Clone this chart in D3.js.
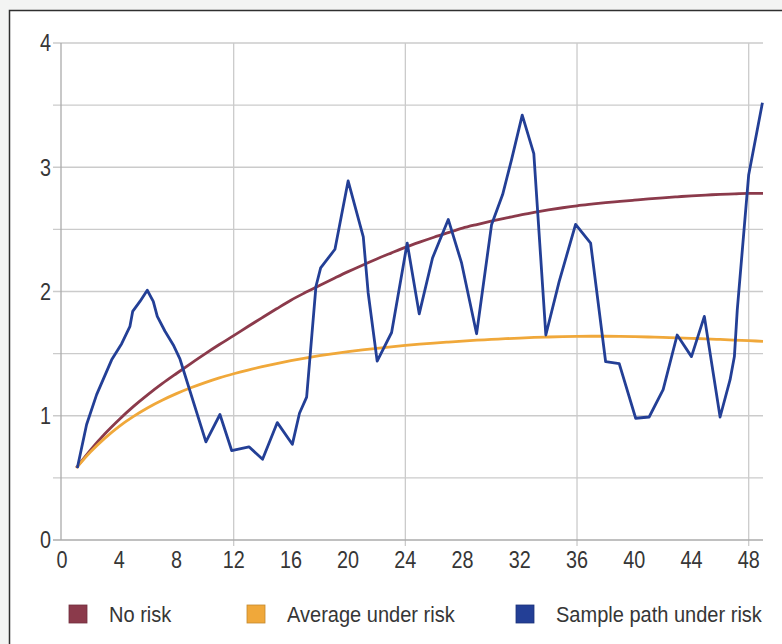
<!DOCTYPE html>
<html>
<head>
<meta charset="utf-8">
<script src="https://cdn.jsdelivr.net/npm/d3@7/dist/d3.min.js"></script>
<style>
  body { margin: 0; background: #f3f4f3; }
  svg text { font-family: "Liberation Sans", Arial, sans-serif; fill: #363636; }
</style>
</head>
<body>
<div id="chart"></div>
<script>
// Data
const months = [1, 2, 3, 4, 5, 6, 7, 8, 9, 10, 11, 12, 13, 14, 15, 16, 17, 18, 19, 20,
                21, 22, 23, 24, 25, 26, 27, 28, 29, 30, 31, 32, 33, 34, 35, 36, 37, 38, 39, 40,
                41, 42, 43, 44, 45, 46, 47, 48, 49];

const noRisk = [0.58, 0.725, 0.855, 0.97, 1.075, 1.17, 1.258, 1.34, 1.42, 1.498, 1.573, 1.645, 1.718, 1.79, 1.861, 1.93, 1.991, 2.049, 2.105, 2.16,
                2.212, 2.262, 2.309, 2.355, 2.397, 2.437, 2.474, 2.51, 2.539, 2.566, 2.591, 2.615, 2.636, 2.656, 2.674, 2.69, 2.703, 2.715, 2.725, 2.735,
                2.745, 2.754, 2.762, 2.77, 2.776, 2.782, 2.786, 2.79, 2.79];

const avgRisk = [0.58, 0.71, 0.82, 0.915, 0.995, 1.065, 1.125, 1.178, 1.225, 1.267, 1.305, 1.338, 1.368, 1.395, 1.42, 1.443, 1.464, 1.483, 1.5, 1.516,
                 1.53, 1.543, 1.555, 1.566, 1.576, 1.585, 1.593, 1.601, 1.608, 1.614, 1.62, 1.625, 1.63, 1.634, 1.637, 1.639, 1.64, 1.64, 1.639, 1.637,
                 1.634, 1.631, 1.627, 1.623, 1.619, 1.614, 1.609, 1.604, 1.599];

const pathTime = [1.07, 1.72, 2.42, 3.47, 4.17, 4.75, 4.94, 5.45, 5.96, 6.38, 6.66, 7.2, 7.78, 8.25, 10.06, 11.04, 11.86, 13.07, 14.02, 15.05,
                  16.1, 16.6, 17.1, 17.75, 18.08, 19.08, 20.0, 21.06, 21.4, 22.03, 23.04, 24.13, 24.97, 25.9, 27.0, 27.93, 28.98, 30.03, 30.8, 31.42,
                  32.17, 32.98, 33.82, 34.75, 35.9, 36.95, 38.0, 38.95, 40.1, 41.04, 42.02, 43.0, 44.0, 44.9, 46.0, 46.7, 47.0, 47.2, 48.0, 48.96];

const pathValue = [0.58, 0.93, 1.17, 1.45, 1.58, 1.72, 1.84, 1.92, 2.01, 1.92, 1.80, 1.68, 1.57, 1.455, 0.79, 1.01, 0.72, 0.75, 0.65, 0.945,
                   0.77, 1.02, 1.15, 2.04, 2.19, 2.34, 2.89, 2.44, 1.99, 1.44, 1.67, 2.39, 1.82, 2.27, 2.58, 2.23, 1.66, 2.54, 2.78, 3.06,
                   3.42, 3.11, 1.65, 2.08, 2.54, 2.39, 1.435, 1.42, 0.98, 0.99, 1.21, 1.65, 1.476, 1.80, 0.99, 1.29, 1.476, 1.85, 2.94, 3.52];

const xTickLabels = [0, 4, 8, 12, 16, 20, 24, 28, 32, 36, 40, 44, 48];
const xGridValues = [12, 24, 36, 48];
const yGridValues = [0.5, 1, 1.5, 2, 2.5, 3, 3.5, 4];
const yTickLabels = [0, 1, 2, 3, 4];

const seriesNames = ['No risk', 'Average under risk', 'Sample path under risk'];

// Constant
const width = 782;
const height = 644;
const plot = {left: 61, right: 763, top: 43, bottom: 540};
const colorMap = {
    'No risk': '#8b3a4b',
    'Average under risk': '#f0a83a',
    'Sample path under risk': '#233f96'
};
const gridColor = '#cbcbcb';
const axisColor = '#ababab';
const tickFont = '23px';
const legendFont = '22px';

const xScale = d3.scaleLinear()
                .domain([0, 49])
                .range([62, plot.right]);
const yScale = d3.scaleLinear()
                .domain([0, 4])
                .range([plot.bottom, plot.top]);

// squeeze text a bit to mimic the condensed face of the original
const narrow = k => sel => sel.each(function () {
    const w = this.getComputedTextLength();
    d3.select(this)
        .attr('textLength', w * k)
        .attr('lengthAdjust', 'spacingAndGlyphs');
});

const svg = d3.select('#chart')
    .append('svg')
        .attr('width', width)
        .attr('height', height);

// frame
svg.append('rect')
    .attr('x', 9.5)
    .attr('y', 10.5)
    .attr('width', 820)
    .attr('height', 700)
    .attr('fill', '#fff')
    .attr('stroke', '#2f2f2f')
    .attr('stroke-width', 1.5);

// horizontal gridlines
svg.append('g')
    .selectAll('line')
    .data(yGridValues)
    .join('line')
        .attr('x1', plot.left - 8)
        .attr('x2', plot.right)
        .attr('y1', d => yScale(d))
        .attr('y2', d => yScale(d))
        .attr('stroke', gridColor)
        .attr('stroke-width', 1.3);

// vertical gridlines
svg.append('g')
    .selectAll('line')
    .data(xGridValues)
    .join('line')
        .attr('x1', d => xScale(d))
        .attr('x2', d => xScale(d))
        .attr('y1', plot.top)
        .attr('y2', plot.bottom + 6)
        .attr('stroke', gridColor)
        .attr('stroke-width', 1.3);

// axis lines
svg.append('line')
    .attr('x1', plot.left).attr('x2', plot.left)
    .attr('y1', plot.top).attr('y2', plot.bottom)
    .attr('stroke', axisColor).attr('stroke-width', 1.3);
svg.append('line')
    .attr('x1', plot.left - 8).attr('x2', plot.right)
    .attr('y1', plot.bottom).attr('y2', plot.bottom)
    .attr('stroke', axisColor).attr('stroke-width', 1.5);

// tick labels
svg.append('g')
    .selectAll('text')
    .data(yTickLabels)
    .join('text')
        .attr('x', 51)
        .attr('y', d => yScale(d))
        .attr('dy', '0.36em')
        .attr('text-anchor', 'end')
        .style('font-size', tickFont)
        .text(d => d)
        .call(narrow(0.86));

svg.append('g')
    .selectAll('text')
    .data(xTickLabels)
    .join('text')
        .attr('x', d => xScale(d))
        .attr('y', 568)
        .attr('text-anchor', 'middle')
        .style('font-size', tickFont)
        .text(d => d)
        .call(narrow(0.86));

// lines
const line = d3.line()
    .x(d => xScale(d[0]))
    .y(d => yScale(d[1]));

const series = [
    {name: 'No risk', values: months.map((m, i) => [m, noRisk[i]]), curve: d3.curveMonotoneX},
    {name: 'Average under risk', values: months.map((m, i) => [m, avgRisk[i]]), curve: d3.curveMonotoneX},
    {name: 'Sample path under risk', values: pathTime.map((t, i) => [t, pathValue[i]]), curve: d3.curveLinear}
];

series.forEach(s => {
    svg.append('path')
        .datum(s.values)
        .attr('fill', 'none')
        .attr('stroke', colorMap[s.name])
        .attr('stroke-width', 2.8)
        .attr('stroke-linejoin', 'round')
        .attr('d', line.curve(s.curve));
});

// legend
const legendX = [69, 247, 516];
const legend = svg.append('g')
    .selectAll('g')
    .data(seriesNames)
    .join('g')
        .attr('transform', (d, i) => `translate(${legendX[i]}, 605)`);

legend.append('rect')
    .attr('width', 18)
    .attr('height', 18)
    .attr('fill', d => colorMap[d])
    .attr('stroke', d => d3.color(colorMap[d]).darker(0.6))
    .attr('stroke-width', 0.8);

legend.append('text')
    .attr('x', 40)
    .attr('y', 17)
    .style('font-size', legendFont)
    .text(d => d)
    .call(narrow(0.91));
</script>
</body>
</html>
